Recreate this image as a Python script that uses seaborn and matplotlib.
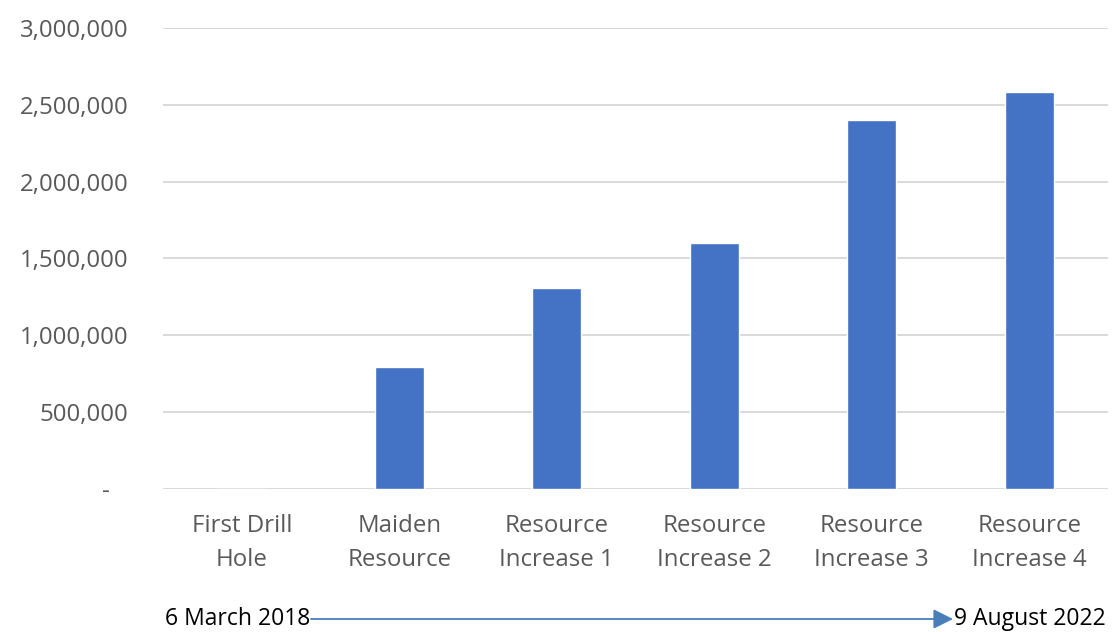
import matplotlib
matplotlib.use("Agg")
import matplotlib.pyplot as plt
import seaborn as sns
import pandas as pd
from matplotlib.ticker import FuncFormatter

# Resource growth milestones
milestones = ["First Drill\nHole", "Maiden\nResource", "Resource\nIncrease 1",
              "Resource\nIncrease 2", "Resource\nIncrease 3", "Resource\nIncrease 4"]
ounces = [0, 792000, 1305000, 1600000, 2400000, 2582000]
y_ticks = [0, 500000, 1000000, 1500000, 2000000, 2500000, 3000000]
start_label = "6 March 2018"
end_label = "9 August 2022"

df = pd.DataFrame({"milestone": milestones, "ounces": ounces})

sns.set_theme(style="white")
plt.rcParams["font.family"] = ["Open Sans", "DejaVu Sans"]

fig = plt.figure(figsize=(11.12, 6.32), dpi=100)
ax = fig.add_axes([0.1466, 0.2263, 0.8498, 0.7294])

sns.barplot(data=df, x="milestone", y="ounces", color="#4472C4",
            saturation=1, width=0.31, ax=ax)

ax.set_xlim(-0.5, len(milestones) - 0.5)
ax.set_ylim(0, 3000000)
ax.set_yticks(y_ticks)
# Accounting-style labels: zero shown as a dash
ax.yaxis.set_major_formatter(FuncFormatter(lambda v, p: "-   " if v == 0 else f"{v:,.0f}"))
ax.grid(axis="y", color="#D9D9D9", linewidth=1.4)
ax.set_axisbelow(True)
for s in ax.spines.values():
    s.set_visible(False)
ax.tick_params(axis="both", length=0, labelsize=17.3, labelcolor="#595959")
ax.tick_params(axis="y", pad=25)
ax.tick_params(axis="x", pad=18)
for t in ax.get_xticklabels():
    t.set_linespacing(1.55)
ax.set_xlabel("")
ax.set_ylabel("")

# Timeline from first drill hole to latest resource update
fig.text(165 / 1112, 1 - 619 / 632, start_label, ha="left", va="center",
         fontsize=16.5, color="black")
fig.text(954 / 1112, 1 - 619 / 632, end_label, ha="left", va="center",
         fontsize=16.5, color="black")
fig.add_artist(matplotlib.patches.FancyArrowPatch(
    (311 / 1112, 1 - 619 / 632), (953 / 1112, 1 - 619 / 632),
    transform=fig.transFigure, arrowstyle="-|>,head_length=8,head_width=4",
    color="#4A7EBB", linewidth=1.3, mutation_scale=1.5, shrinkA=0, shrinkB=0))

fig.savefig("out.png", dpi=100)
